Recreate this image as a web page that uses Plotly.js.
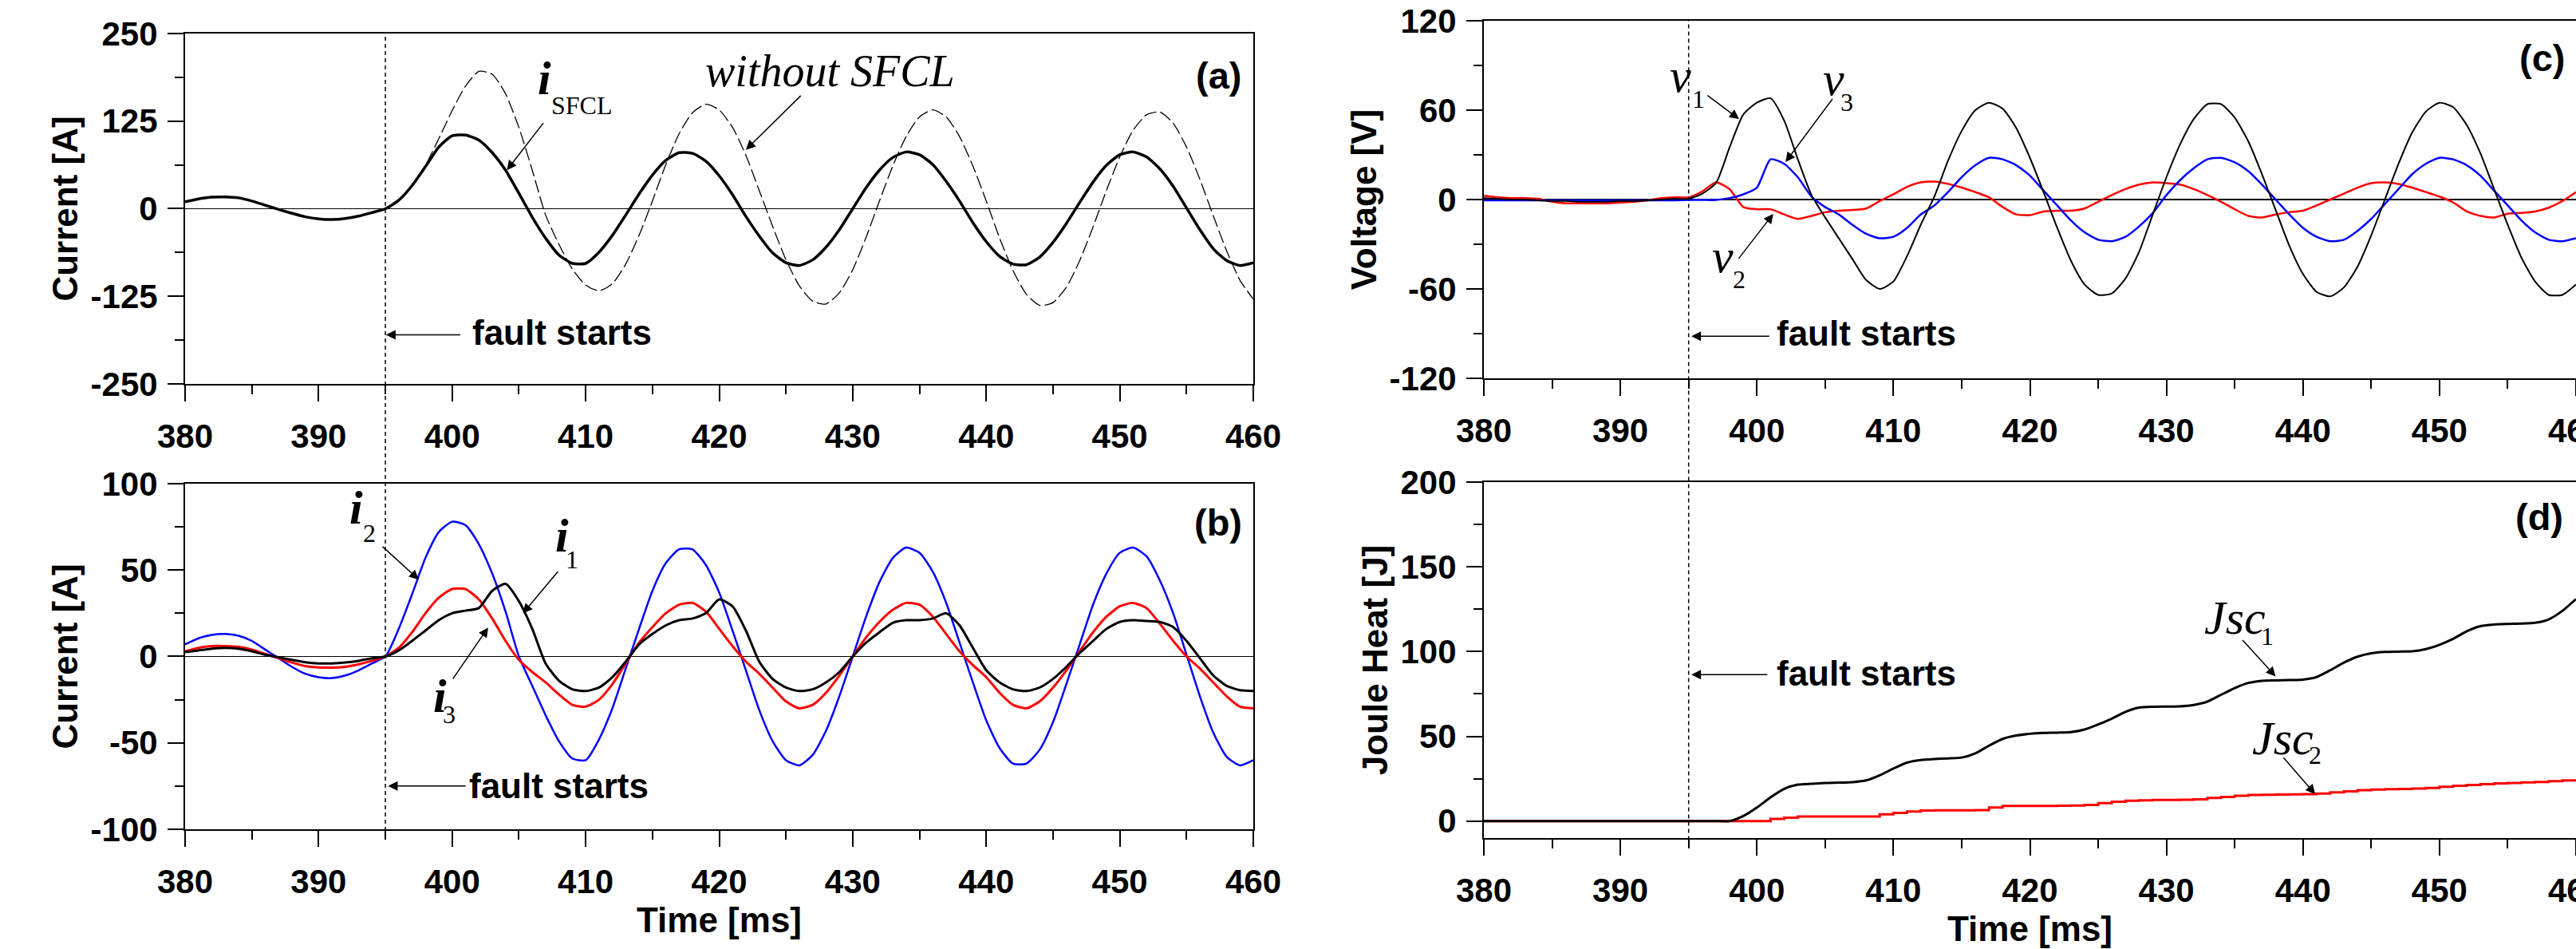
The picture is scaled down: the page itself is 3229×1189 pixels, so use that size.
<!DOCTYPE html>
<html>
<head>
<meta charset="utf-8">
<script src="https://cdn.plot.ly/plotly-3.0.1.min.js"></script>
<style>
  html, body { margin: 0; padding: 0; background: #ffffff; }
  #chart { width: 3229px; height: 1189px; }
</style>
</head>
<body>
<div id="chart"></div>
<script>
// ---------------- DATA ----------------
const time = [380,381,382,383,384,385,386,387,388,389,390,391,392,393,394,395,396,397,398,399,
  400,401,402,403,404,405,406,407,408,409,410,411,412,413,414,415,416,417,418,419,
  420,421,422,423,424,425,426,427,428,429,430,431,432,433,434,435,436,437,438,439,
  440,441,442,443,444,445,446,447,448,449,450,451,452,453,454,455,456,457,458,459,460];

// (a) line current with SFCL and without SFCL [A]
const iSFCL = [10,14,16.5,16.8,15.5,11,5,-1,-6.5,-11.5,-14.5,-15.5,-14,-10.5,-5.5,0,12,33,60,88,
  104,105,98,80,55,22,-12,-42,-66,-78,-78,-62,-38,-9,21,48,69,80,79,68,
  47,20,-11,-39,-63,-77,-81,-73,-55,-30,0,30,55,73,81,77,63,39,11,-20,
  -47,-68,-79,-80,-69,-48,-21,9,38,62,77,81,74,57,32,1,-30,-57,-74,-81,-77];
const iNoSFCL = [10,14,16.5,16.8,15.5,11,5,-1,-6.5,-11.5,-14.5,-15.5,-14,-10.5,-5.5,0,12,33,62,100,
  140,175,196,192,164,116,55,-9,-51,-86,-109,-117,-107,-79,-38,11,63,107,137,149,
  141,116,76,26,-25,-73,-110,-132,-136,-120,-87,-41,11,61,103,131,141,131,103,61,
  11,-42,-88,-122,-138,-134,-112,-74,-26,26,74,112,134,138,122,88,42,-10,-60,-102,-129];

// (b) branch currents [A]
const i1 = [2.5,3.5,4.5,5,4.5,3,1,-0.5,-2,-3.3,-4,-4,-3.5,-2.5,-1,0,3.5,9,15,21,
  25,26.5,28,38,42,32,16,-4,-14,-19,-20,-18,-12,-3,7,13,18,21,22,25,
  33,29,15,-3,-13,-18,-20,-19,-15,-9,0,8,14,19.5,21,21,22,25,18,5,
  -8,-15,-19,-20,-18,-13,-6,2,9,16,20,21,20.5,20,17,9,-1,-11,-17,-19.5,-20];
const i2 = [7,10.5,12.5,13,12,9,4,-1,-6,-10,-12,-12.5,-11,-8,-4,0,16,36,57,72,
  78,76,65,48,26,0,-17,-34,-49,-59,-60,-48,-30,-7,16,38,54,62,62,53,
  37,15,-8,-31,-49,-60,-63,-57,-43,-23,0,23,43,57,63,60,49,31,8,-15,
  -37,-53,-62,-62,-54,-38,-16,7,30,48,60,63,58,44,25,1,-23,-44,-58,-63,-60];
const i3 = [3,5,6,6,5.5,4,1.5,-1,-3.5,-5.5,-6.3,-6.5,-6,-4.5,-2.5,0,5,14,25,34,
  39,39,33,22,9,-2,-9,-15,-22,-28,-29,-25,-16,-4,8,17,25,30,31,26,
  16,6,-3,-10,-18,-26,-30,-28,-21,-11,0,11,20,27,31,30,23,13,3,-5,
  -12,-21,-28,-30,-26,-18,-8,3,14,23,29,31,28,19,9,0,-7,-15,-23,-29,-30];

// (c) SFCL voltages [V]
const v1 = [1,0.5,0,0,-0.5,-1,-1,-1.5,-1.5,-1.5,-1,-1,-0.5,0,0.5,0.5,4,11,35,57,
  65,68,53,27,3,-12,-26,-40,-54,-60,-55,-38,-17,2,26,46,60,65,61,48,
  28,5,-19,-41,-57,-64,-63,-53,-35,-10,15,37,54,64,64,55,39,17,-7,-31,
  -50,-62,-65,-59,-45,-24,0,24,45,59,65,62,50,31,7,-17,-39,-55,-64,-64,-57];
const v2 = [2.5,1.5,1,1,0.5,-1.5,-2.5,-2.5,-2.5,-2.5,-2,-1.5,-0.5,1,1.5,1.5,5.5,11.5,7,-5,
  -6.5,-6.5,-10,-13,-11,-8.5,-7.5,-7,-6,-1,3.5,8.5,11.5,12,10.5,8,5,1.5,-5,-10,
  -10.5,-8,-7.5,-7.5,-6,-1.5,3,7,10,11.5,11,10,7,3,-1.5,-6.5,-11,-12,-10,-8.5,
  -7.5,-4,0,4,8,11,11.5,10.5,8,5,2,-2,-8,-11,-12,-9.5,-9,-8,-5.5,-1,5];
const v3 = [-0.5,-0.5,-0.5,-0.5,-0.5,-0.5,-0.5,-0.5,-0.5,-0.5,-0.5,-0.5,-0.5,-0.5,-0.5,-0.3,-0.3,-0.3,1,3.5,
  8,27,24,15,2,-5,-10,-17,-23,-26,-25,-19,-10,-4,5,15,23,28,27,23,
  16,6,-4,-14,-22,-27,-28,-25,-18,-9,3,13,21,27,28,25,19,10,0,-10,
  -19,-25,-28,-27,-21,-13,-3,7,17,24,28,27,23,16,6,-4,-14,-22,-27,-28,-26];

// (d) Joule heat [J]
const jsc1 = [0,0,0,0,0,0,0,0,0,0,0,0,0,0,0,0,0,0,0,3,
  8,14,19,21.5,22,22.5,22.7,23,24,27,31,34.5,36,36.6,37,37.5,40,44.5,48.5,50.5,
  51.5,52,52.2,52.5,54,57,60.5,64.5,67,67.5,67.6,67.7,68.5,70.5,74.5,78.5,81.5,82.8,83,83.2,
  83.5,85,89,93.5,97,99,99.8,100,100.2,101.5,104,107.5,112,115,116,116.3,116.5,117,119,124,131];
const jsc2 = [0,0,0,0,0,0,0,0,0,0,0,0,0,0,0,0,0,0,0,0,
  0,1.3,2,2.7,2.7,2.7,2.7,2.7,2.7,4,4.8,5.6,6.2,6.4,6.4,6.4,6.5,8,8.9,8.9,
  9,9,9.1,9.2,9.5,10.6,11.4,12,12.3,12.5,12.5,12.6,12.8,13.6,14.3,15,15.4,15.6,15.7,15.8,
  15.9,16.2,17,17.6,18.2,18.6,18.8,19,19.2,19.6,20.2,20.8,21.3,21.8,22.2,22.5,22.8,23.1,23.5,24,24.4];

// tick labels
const xTicks = [380,390,400,410,420,430,440,450,460];
const xTickText = ['380','390','400','410','420','430','440','450','460'];
const yTicksA = [-250,-125,0,125,250];
const yTickTextA = ['-250','-125','0','125','250'];
const yTicksB = [-100,-50,0,50,100];
const yTickTextB = ['-100','-50','0','50','100'];
const yTicksC = [-120,-60,0,60,120];
const yTickTextC = ['-120','-60','0','60','120'];
const yTicksD = [0,50,100,150,200];
const yTickTextD = ['0','50','100','150','200'];
const faultTime = 395;

// ---------------- STYLE ----------------
const SANS = 'Liberation Sans, Arial, sans-serif';
const SERIF = 'Liberation Serif, Times New Roman, serif';
const tickFont = {family: SANS, size: 42, color: '#000', weight: 'bold'};
const titleFont = {family: SANS, size: 44, color: '#000', weight: 'bold'};

function xAxis(domain, anchor, withTitle) {
  const ax = {
    domain: domain, anchor: anchor, range: [380, 460],
    tickmode: 'array', tickvals: xTicks, ticktext: xTickText,
    showline: true, linecolor: '#000', linewidth: 2, mirror: true,
    ticks: 'outside', ticklen: 20, tickwidth: 2, tickcolor: '#000',
    minor: {ticks: 'outside', ticklen: 11, tickwidth: 2, tickcolor: '#000', dtick: 5, tick0: 380, showgrid: false},
    showgrid: false, zeroline: false, tickfont: tickFont, ticklabelstandoff: 8,
    ticklabeloverflow: 'allow'
  };
  if (withTitle) ax.title = {text: 'Time [ms]', font: titleFont, standoff: 4};
  return ax;
}
function yAxis(domain, anchor, range, vals, txt, minorStep, title, zero, mirror) {
  return {
    domain: domain, anchor: anchor, range: range,
    tickmode: 'array', tickvals: vals, ticktext: txt,
    showline: true, linecolor: '#000', linewidth: 2, mirror: mirror,
    ticks: 'outside', ticklen: 20, tickwidth: 2, tickcolor: '#000',
    minor: {ticks: 'outside', ticklen: 11, tickwidth: 2, tickcolor: '#000', dtick: minorStep, tick0: 0, showgrid: false},
    showgrid: false, zeroline: zero, zerolinecolor: '#000', zerolinewidth: 1.5,
    tickfont: tickFont, ticklabelstandoff: 4,
    title: {text: title, font: titleFont, standoff: 2}
  };
}

const sp = {shape: 'spline', smoothing: 0.6};
const traces = [
  {x: time, y: iNoSFCL, xaxis: 'x', yaxis: 'y', mode: 'lines', line: Object.assign({color: '#000', width: 1.3, dash: '16px,5px'}, sp)},
  {x: time, y: iSFCL, xaxis: 'x', yaxis: 'y', mode: 'lines', line: Object.assign({color: '#000', width: 3.5}, sp)},
  {x: time, y: i2, xaxis: 'x2', yaxis: 'y2', mode: 'lines', line: Object.assign({color: '#0000ff', width: 2.5}, sp)},
  {x: time, y: i3, xaxis: 'x2', yaxis: 'y2', mode: 'lines', line: Object.assign({color: '#ff0000', width: 3}, sp)},
  {x: time, y: i1, xaxis: 'x2', yaxis: 'y2', mode: 'lines', line: Object.assign({color: '#000', width: 3}, sp)},
  {x: time, y: v2, xaxis: 'x3', yaxis: 'y3', mode: 'lines', line: Object.assign({color: '#ff0000', width: 2.5}, sp)},
  {x: time, y: v3, xaxis: 'x3', yaxis: 'y3', mode: 'lines', line: Object.assign({color: '#0000ff', width: 2.5}, sp)},
  {x: time, y: v1, xaxis: 'x3', yaxis: 'y3', mode: 'lines', line: Object.assign({color: '#000', width: 2}, sp)},
  {x: time, y: jsc2, xaxis: 'x4', yaxis: 'y4', mode: 'lines', line: {color: '#ff0000', width: 3, shape: 'hv'}},
  {x: time, y: jsc1, xaxis: 'x4', yaxis: 'y4', mode: 'lines', line: Object.assign({color: '#000', width: 3}, sp)}
];

// annotation helpers
function txt(xr, yr, x, y, text, font, anchor) {
  return {xref: xr, yref: yr, x: x, y: y, text: text, showarrow: false, font: font,
          xanchor: anchor || 'center', yanchor: 'middle'};
}
function arrow(xr, yr, x0, y0, x1, y1) {
  return {xref: xr, yref: yr, axref: xr, ayref: yr, x: x1, y: y1, ax: x0, ay: y0, text: '',
          showarrow: true, arrowhead: 2, arrowsize: 1.6, arrowwidth: 1.5, arrowcolor: '#000', standoff: 0, startstandoff: 0};
}
const panelFont = {family: SANS, size: 47, color: '#000', weight: 'bold'};
const faultFont = {family: SANS, size: 44, color: '#000', weight: 'bold'};
const bigItal = {family: SERIF, size: 60, color: '#000', style: 'italic', weight: 'bold'};
const vItal = {family: SERIF, size: 60, color: '#000', style: 'italic'};
const subFont = {family: SERIF, size: 32, color: '#000'};
const withoutFont = {family: SERIF, size: 56, color: '#000', style: 'italic'};

const annotations = [
  // (a)
  txt('x', 'y', 457.4, 190, '(a)', panelFont),
  txt('x', 'y', 406.9, 186, 'i', bigItal),
  txt('x', 'y', 409.7, 147, 'SFCL', subFont),
  arrow('x', 'y', 406.9, 124, 404.1, 55),
  txt('x', 'y', 428.3, 197, 'without SFCL', withoutFont),
  arrow('x', 'y', 426.2, 163, 422.0, 84),
  txt('x', 'y', 408.2, -176, 'fault starts', faultFont),
  arrow('x', 'y', 400.7, -180, faultTime + 0.05, -180),
  // (b)
  txt('x2', 'y2', 457.4, 77.6, '(b)', panelFont),
  txt('x2', 'y2', 392.8, 86, 'i', bigItal),
  txt('x2', 'y2', 393.8, 71.4, '2', subFont),
  arrow('x2', 'y2', 394.7, 64.2, 397.5, 44.5),
  txt('x2', 'y2', 408.2, 70, 'i', bigItal),
  txt('x2', 'y2', 409.0, 56.2, '1', subFont),
  arrow('x2', 'y2', 408.0, 49.9, 405.3, 24.9),
  txt('x2', 'y2', 399.1, -23, 'i', bigItal),
  txt('x2', 'y2', 399.8, -33.3, '3', subFont),
  arrow('x2', 'y2', 400.0, -13.6, 402.7, 16.8),
  txt('x2', 'y2', 408.0, -75, 'fault starts', faultFont),
  arrow('x2', 'y2', 401.1, -75, faultTime + 0.2, -75),
  // (c)
  txt('x3', 'y3', 457.5, 95, '(c)', panelFont),
  txt('x3', 'y3', 394.4, 83, 'v', vItal),
  txt('x3', 'y3', 395.7, 67.3, '1', subFont),
  arrow('x3', 'y3', 396.3, 70.4, 398.7, 54),
  txt('x3', 'y3', 405.6, 81, 'v', vItal),
  txt('x3', 'y3', 406.6, 65.2, '3', subFont),
  arrow('x3', 'y3', 405.6, 68.3, 402.1, 25.2),
  txt('x3', 'y3', 397.5, -38, 'v', vItal),
  txt('x3', 'y3', 398.7, -53.7, '2', subFont),
  arrow('x3', 'y3', 398.6, -40.4, 401.2, -9.6),
  txt('x3', 'y3', 408.0, -90, 'fault starts', faultFont),
  arrow('x3', 'y3', 401.0, -91.7, faultTime + 0.2, -91.7),
  // (d)
  txt('x4', 'y4', 457.3, 179.6, '(d)', panelFont),
  txt('x4', 'y4', 435.0, 120, 'Jsc', vItal),
  txt('x4', 'y4', 437.4, 109.3, '1', subFont),
  arrow('x4', 'y4', 435.5, 107.5, 438.0, 85.3),
  txt('x4', 'y4', 438.5, 49, 'Jsc', vItal),
  txt('x4', 'y4', 440.9, 39, '2', subFont),
  arrow('x4', 'y4', 438.5, 38.1, 440.9, 15.9),
  txt('x4', 'y4', 408.0, 87, 'fault starts', faultFont),
  arrow('x4', 'y4', 400.85, 86.4, faultTime + 0.2, 86.4)
];

const shapes = [
  {type: 'line', xref: 'x', yref: 'paper', x0: faultTime, x1: faultTime, y0: 0.1169, y1: 0.9638,
   line: {color: '#000', width: 1.5, dash: '5px,4px'}},
  {type: 'line', xref: 'x3', yref: 'paper', x0: faultTime, x1: faultTime, y0: 0.1072, y1: 0.9781,
   line: {color: '#000', width: 1.5, dash: '5px,4px'}}
];

const layout = {
  width: 3229, height: 1189,
  margin: {l: 0, r: 0, t: 0, b: 0},
  paper_bgcolor: '#ffffff', plot_bgcolor: '#ffffff',
  showlegend: false,
  xaxis: xAxis([0.07185, 0.48653], 'y', false),
  yaxis: yAxis([0.59546, 0.96468], 'x', [-250, 250], yTicksA, yTickTextA, 62.5, 'Current [A]', true, true),
  xaxis2: xAxis([0.07185, 0.48653], 'y2', true),
  yaxis2: yAxis([0.12616, 0.49033], 'x2', [-100, 100], yTicksB, yTickTextB, 25, 'Current [A]', true, true),
  xaxis3: xAxis([0.57603, 1.0], 'y3', false),
  yaxis3: yAxis([0.60135, 0.97813], 'x3', [-120, 120], yTicksC, yTickTextC, 30, 'Voltage [V]', true, false),
  xaxis4: xAxis([0.57603, 1.0], 'y4', true),
  yaxis4: yAxis([0.11691, 0.49201], 'x4', [-10, 200], yTicksD, yTickTextD, 25, 'Joule Heat [J]', false, false),
  annotations: annotations,
  shapes: shapes
};

Plotly.newPlot('chart', traces, layout, {staticPlot: true, displayModeBar: false});
</script>
</body>
</html>
